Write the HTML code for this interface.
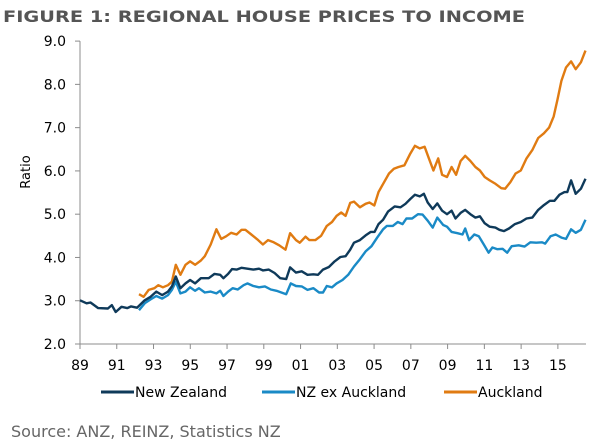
<!DOCTYPE html>
<html><head><meta charset="utf-8"><style>
body{margin:0;background:#fff;width:600px;height:445px;overflow:hidden;font-family:"DejaVu Sans","Liberation Sans",sans-serif}
svg{position:absolute;left:0;top:0}
</style></head><body>
<svg width="600" height="445" id="c">
<text x="3" y="22" font-size="16" font-weight="bold" fill="#555" textLength="522" lengthAdjust="spacingAndGlyphs" font-family="DejaVu Sans,Liberation Sans,sans-serif">FIGURE 1: REGIONAL HOUSE PRICES TO INCOME</text>
<text transform="translate(30,172) rotate(-90)" font-size="13" fill="#000" text-anchor="middle">Ratio</text>
<text x="11" y="437" font-size="16" fill="#666">Source: ANZ, REINZ, Statistics NZ</text>
<g id="axes"></g><g id="lines"></g><g id="legend"></g>
</svg>
<script>
const yTicks=[2,3,4,5,6,7,8,9];
const xTickLabels=["89","91","93","95","97","99","01","03","05","07","09","11","13","15"];
const xTickYears=[1989,1991,1993,1995,1997,1999,2001,2003,2005,2007,2009,2011,2013,2015];
const nzYears=[1989.0,1989.36,1989.57,1989.99,1990.52,1990.73,1990.94,1991.26,1991.57,1991.78,1992.1,1992.25,1992.52,1992.84,1993.15,1993.47,1993.79,1994.0,1994.21,1994.46,1994.74,1994.99,1995.26,1995.58,1996.0,1996.32,1996.63,1996.8,1997.06,1997.27,1997.52,1997.79,1998.11,1998.43,1998.74,1998.95,1999.27,1999.59,1999.9,2000.22,2000.43,2000.75,2001.06,2001.38,2001.7,2001.95,2002.22,2002.54,2002.85,2003.17,2003.45,2003.7,2003.91,2004.23,2004.54,2004.82,2005.03,2005.24,2005.49,2005.76,2006.12,2006.44,2006.71,2006.97,2007.22,2007.49,2007.71,2007.92,2008.19,2008.44,2008.7,2008.97,2009.22,2009.43,2009.71,2009.96,2010.24,2010.51,2010.76,2011.02,2011.29,2011.6,2011.82,2012.07,2012.34,2012.66,2012.98,2013.29,2013.61,2013.93,2014.24,2014.56,2014.81,2015.09,2015.36,2015.51,2015.72,2015.97,2016.25,2016.5];
const nzValues=[3.01,2.94,2.96,2.83,2.82,2.90,2.74,2.86,2.83,2.87,2.84,2.90,3.01,3.09,3.21,3.13,3.21,3.33,3.56,3.29,3.40,3.48,3.40,3.52,3.52,3.62,3.60,3.52,3.62,3.73,3.72,3.76,3.74,3.72,3.74,3.70,3.72,3.64,3.52,3.50,3.77,3.65,3.68,3.60,3.61,3.60,3.72,3.78,3.91,4.01,4.03,4.18,4.34,4.40,4.51,4.59,4.59,4.77,4.87,5.06,5.18,5.16,5.24,5.35,5.45,5.41,5.47,5.27,5.12,5.25,5.08,5.00,5.08,4.90,5.03,5.10,5.00,4.92,4.95,4.79,4.71,4.69,4.64,4.61,4.67,4.77,4.82,4.90,4.92,5.10,5.21,5.31,5.31,5.45,5.51,5.51,5.78,5.47,5.59,5.82];
const exYears=[1992.21,1992.52,1992.84,1993.15,1993.47,1993.79,1994.0,1994.21,1994.46,1994.74,1994.99,1995.26,1995.47,1995.79,1996.11,1996.42,1996.63,1996.8,1997.06,1997.31,1997.58,1997.9,1998.11,1998.43,1998.74,1999.06,1999.38,1999.69,2000.22,2000.47,2000.75,2001.06,2001.38,2001.7,2002.01,2002.22,2002.43,2002.71,2002.96,2003.28,2003.59,2003.91,2004.23,2004.54,2004.86,2005.17,2005.49,2005.7,2006.02,2006.29,2006.55,2006.76,2007.07,2007.39,2007.64,2007.92,2008.19,2008.44,2008.76,2008.97,2009.22,2009.54,2009.81,2009.96,2010.17,2010.45,2010.7,2010.97,2011.23,2011.44,2011.71,2011.99,2012.24,2012.49,2012.87,2013.19,2013.5,2013.82,2014.14,2014.31,2014.6,2014.88,2015.19,2015.44,2015.72,2015.97,2016.25,2016.5];
const exValues=[2.78,2.94,3.03,3.11,3.05,3.13,3.25,3.44,3.17,3.21,3.31,3.23,3.29,3.19,3.21,3.17,3.23,3.11,3.21,3.29,3.26,3.36,3.40,3.34,3.31,3.33,3.26,3.23,3.15,3.40,3.34,3.33,3.25,3.29,3.19,3.19,3.34,3.31,3.40,3.48,3.60,3.79,3.96,4.14,4.26,4.46,4.65,4.73,4.73,4.82,4.77,4.90,4.90,5.00,4.99,4.85,4.69,4.92,4.75,4.71,4.59,4.56,4.53,4.67,4.40,4.53,4.49,4.30,4.11,4.23,4.19,4.20,4.11,4.26,4.28,4.25,4.35,4.34,4.35,4.32,4.49,4.53,4.46,4.43,4.65,4.57,4.64,4.87];
const akYears=[1992.21,1992.46,1992.74,1993.05,1993.26,1993.51,1993.79,1994.0,1994.21,1994.46,1994.74,1994.99,1995.26,1995.58,1995.79,1996.11,1996.42,1996.68,1996.95,1997.22,1997.52,1997.79,1998.0,1998.32,1998.64,1998.95,1999.23,1999.54,1999.84,2000.18,2000.43,2000.75,2000.96,2001.27,2001.48,2001.8,2002.12,2002.43,2002.71,2002.96,2003.21,2003.45,2003.7,2003.91,2004.23,2004.54,2004.75,2005.01,2005.24,2005.49,2005.81,2006.08,2006.33,2006.65,2006.97,2007.22,2007.49,2007.75,2007.98,2008.23,2008.49,2008.7,2008.97,2009.22,2009.46,2009.71,2009.96,2010.24,2010.51,2010.76,2011.02,2011.29,2011.61,2011.92,2012.13,2012.41,2012.7,2012.98,2013.29,2013.61,2013.93,2014.24,2014.52,2014.77,2014.98,2015.19,2015.44,2015.72,2015.97,2016.25,2016.5];
const akValues=[3.15,3.09,3.25,3.29,3.36,3.31,3.36,3.44,3.83,3.60,3.83,3.91,3.83,3.93,4.03,4.30,4.65,4.43,4.49,4.57,4.53,4.64,4.64,4.53,4.42,4.30,4.40,4.35,4.28,4.18,4.56,4.40,4.34,4.48,4.40,4.40,4.50,4.73,4.82,4.96,5.04,4.96,5.26,5.29,5.16,5.24,5.27,5.20,5.51,5.70,5.94,6.05,6.09,6.13,6.40,6.58,6.52,6.56,6.29,6.01,6.29,5.91,5.86,6.09,5.91,6.23,6.35,6.23,6.09,6.01,5.86,5.78,5.70,5.60,5.59,5.74,5.94,6.01,6.29,6.48,6.76,6.87,7.00,7.26,7.65,8.08,8.39,8.53,8.35,8.51,8.78];
const NS='http://www.w3.org/2000/svg';
const X0=80,X1=586,Y0=344,Y1=41.1;
function xs(yr){return X0+(yr-1989)*18.38;}
function ys(v){return Y0-(v-2)*(Y0-Y1)/7;}
function mk(t,a,p){const e=document.createElementNS(NS,t);for(const k in a)e.setAttribute(k,a[k]);p.appendChild(e);return e;}
const ax=document.getElementById('axes');
let e=mk('line',{x1:X0,y1:Y1,x2:X0,y2:Y0,stroke:'#8c8c8c','stroke-width':1},ax);


e=mk('line',{x1:X0,y1:Y0,x2:X1,y2:Y0,stroke:'#8c8c8c','stroke-width':1},ax);


yTicks.forEach(v=>{
 const y=ys(v);
 mk('line',{x1:X0-5,y1:y,x2:X0,y2:y,stroke:'#8c8c8c'},ax);
 const t=mk('text',{x:66,y:y+5,'text-anchor':'end','font-size':14,fill:'#000'},ax);
 t.textContent=v.toFixed(1);
 
 
});
xTickYears.forEach((yr,i)=>{
 const x=xs(yr);
 mk('line',{x1:x,y1:Y0,x2:x,y2:Y0+5,stroke:'#8c8c8c'},ax);
 const t=mk('text',{x:x,y:370,'text-anchor':'middle','font-size':14,fill:'#000'},ax);
 t.textContent=xTickLabels[i];
 
 
});
const lg=document.getElementById('lines');
function series(yrs,vals,col,name){
 const d=yrs.map((yr,i)=>(i?'L':'M')+xs(yr).toFixed(1)+','+ys(vals[i]).toFixed(1)).join('');
 const p=mk('path',{d:d,fill:'none',stroke:col,'stroke-width':2.4,'stroke-linejoin':'round'},lg);
 
 
}
series(akYears,akValues,'#e07b12','auckland-line');
series(exYears,exValues,'#1a8ac6','nz-ex-auckland-line');
series(nzYears,nzValues,'#0f3a5a','new-zealand-line');
const le=document.getElementById('legend');
[[101,'#0f3a5a','New Zealand','legend-new-zealand'],[262,'#1a8ac6','NZ ex Auckland','legend-nz-ex-auckland'],[444,'#e07b12','Auckland','legend-auckland']].forEach(r=>{
 const g=mk('g',{},le);
 
 
 mk('line',{x1:r[0],y1:392,x2:r[0]+33,y2:392,stroke:r[1],'stroke-width':3},g);
 const t=mk('text',{x:r[0]+34,y:397,'font-size':14,fill:'#000'},g);
 t.textContent=r[2];
});
</script>
</body></html>
